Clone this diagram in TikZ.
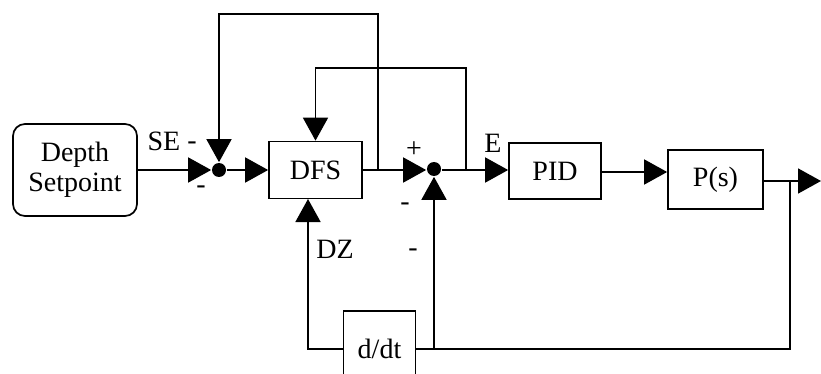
\documentclass[tikz,border=0pt]{standalone}
\usepackage{fontspec}
\setmainfont{Liberation Serif}
\usetikzlibrary{arrows.meta}
\begin{document}
\begin{tikzpicture}[x=1pt,y=-1pt,line width=1.7pt,
  txt/.style={font=\fontsize{28}{30}\selectfont},
  blk/.style={draw,rectangle,inner sep=0pt,txt},
  lbl/.style={inner sep=0pt,txt},
  sumpt/.style={circle,fill,inner sep=0pt,minimum size=14pt},
  tri/.style={-{Triangle[length=23pt,width=25pt]}}
]
\useasboundingbox (0,0) rectangle (821,374);
\clip (0,0) rectangle (821,374);
% blocks
\node[blk,rounded corners=12pt,minimum width=124pt,minimum height=92pt,align=center] (sp) at (75,170) {Depth\\Setpoint};
\node[sumpt] (s1) at (219,170) {};
\node[blk,minimum width=93pt,minimum height=57pt] (dfs) at (315.5,170) {DFS};
\node[sumpt] (s2) at (434,169) {};
\node[blk,minimum width=92pt,minimum height=56pt] (pid) at (555,171) {PID};
\node[blk,minimum width=95pt,minimum height=59pt] (ps) at (715.5,179.5) {P(s)};
\node[blk,minimum width=72pt,minimum height=76pt] (ddt) at (379.5,349) {d/dt};
% coordinates
\coordinate (t1) at (378,170);
\coordinate (c1) at (378,14);
\coordinate (t2) at (466,170);
\coordinate (c2) at (466,68);
\coordinate (out) at (821,181);
\coordinate (br) at (790,181);
\coordinate (bl) at (790,349);
\coordinate (j) at (434,349);
\coordinate (d1) at (308,199);
% connectors
\draw[tri] (sp.east |- s1) -- (s1.west);
\draw[tri] (s1) -- (dfs.west);
\draw[tri] (dfs.east) -- (dfs.east -| s2.west);
\draw[tri] (t1) -- (c1) -| (s1.north);
\draw[tri] (t2) -- (c2) -| (dfs.north);
\draw[tri] (t2 -| s2.east) -- (t2 -| pid.west);
\draw[tri] (pid.east |- 0,172) -- (ps.west |- 0,172);
\draw[tri] (ps.east |- out) -- (out);
\draw (br) -- (bl) -- (ddt.east);
\draw[tri] (j) -- (s2.south);
\draw[tri] (ddt.west) -| (d1);
% labels
\node[lbl] (lse) at (164,141) {SE};
\node[lbl] (lm1) at (192,146) {-};
\node[lbl] (lm2) at (201,190) {-};
\node[lbl] (lp) at (414,150) {+};
\node[lbl] (lm3) at (405,207) {-};
\node[lbl] (lm4) at (413,253) {-};
\node[lbl] (le) at (493,143) {E};
\node[lbl] (ldz) at (335,249) {DZ};
\end{tikzpicture}
\end{document}
